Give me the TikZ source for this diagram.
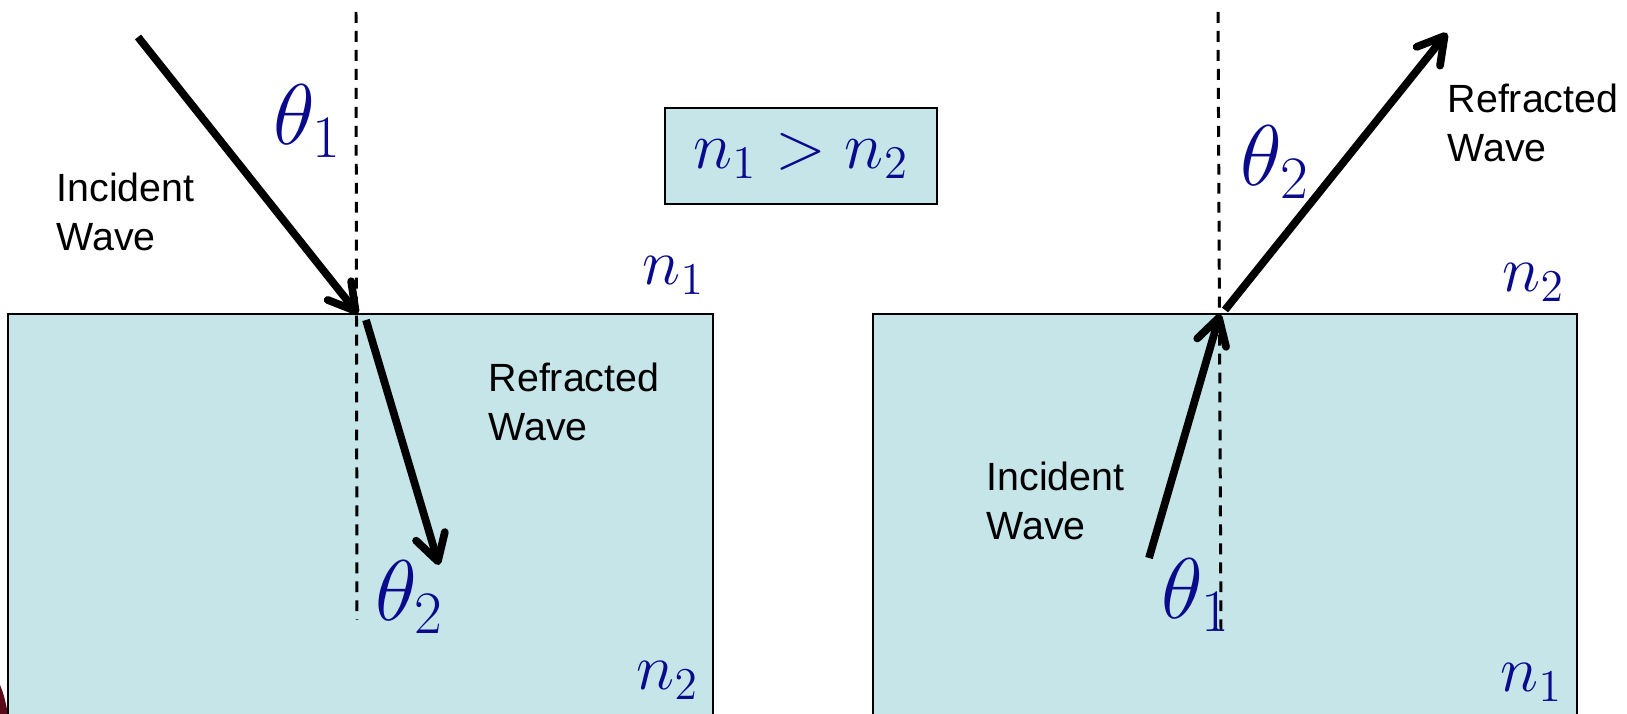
\documentclass[tikz,border=0pt]{standalone}
\usepackage{fix-cm}
\usepackage[no-math]{fontspec}
\newfontfamily\wavefont{Liberation Sans}
\usetikzlibrary{arrows.meta}
\definecolor{medium}{RGB}{197,229,232}
\definecolor{idxblue}{RGB}{10,10,140}
\definecolor{blob}{RGB}{90,10,25}

\begin{document}
\begin{tikzpicture}[
  med/.style={draw=black,line width=0.4pt,fill=medium},
  ray/.style={line width=2.2pt,-{Straight Barb[round,length=2.6mm,width=3mm]}},
  nl/.style={line width=0.85pt,dash pattern=on 3.1pt off 2.3pt},
  txt/.style={font=\wavefont\fontsize{11.2}{13.9}\selectfont,align=left,inner sep=0pt,anchor=north west},
  ang/.style={font=\fontsize{24.5}{29}\selectfont,text=idxblue,inner sep=0pt,anchor=base west},
  idx/.style={font=\fontsize{18.5}{22}\selectfont,text=idxblue,inner sep=0pt,anchor=base west}]
 \useasboundingbox (0,0) rectangle (16.27,-7.14);
 \clip (0,0) rectangle (16.27,-7.14);
 \fill[blob] (0,-6.85) .. controls (0.04,-6.95) .. (0.08,-7.14) -- (0,-7.14) -- cycle;
 \draw[med] (0.08,-3.14) rectangle (7.13,-7.3);
 \draw[med] (8.73,-3.14) rectangle (15.77,-7.3);
 \node[med,line width=0.5pt,minimum width=2.72cm,minimum height=0.96cm,inner sep=0pt,
       font=\fontsize{19}{23}\selectfont,text=idxblue] (cmp) at (8.01,-1.56) {$n_1>n_2$};
 % left: n1 above n2
 \coordinate (nlTop) at (3.56,-0.12);  \coordinate (nlBot) at (3.57,-6.20);
 \coordinate (inL) at (1.38,-0.37);    \coordinate (hitL) at (3.58,-3.14);
 \coordinate (outS) at (3.66,-3.20);   \coordinate (outL) at (4.39,-5.65);
 \draw[nl] (nlTop) -- (nlBot);
 \draw[ray] (inL) -- (hitL);
 \draw[ray] (outS) -- (outL);
 \node[txt] (incL) at (0.56,-1.72) {Incident\\Wave};
 \node[txt] (refL) at (4.88,-3.62) {Refracted\\Wave};
 \node[ang] (thOneL) at (2.73,-1.45) {$\theta_1$};
 \node[ang] (thTwoL) at (3.75,-6.21) {$\theta_2$};
 \node[idx] (nOneL) at (6.42,-2.85) {$n_1$};
 \node[idx] (nTwoL) at (6.36,-6.90) {$n_2$};
 % right: n1 below n2
 \coordinate (nrTop) at (12.18,-0.12); \coordinate (nrBot) at (12.21,-6.30);
 \coordinate (inR) at (11.49,-5.58);   \coordinate (hitR) at (12.20,-3.14);
 \coordinate (outSR) at (12.25,-3.10); \coordinate (outR) at (14.47,-0.33);
 \draw[nl] (nrTop) -- (nrBot);
 \draw[ray] (inR) -- (hitR);
 \draw[ray] (outSR) -- (outR);
 \node[txt] (incR) at (9.86,-4.61) {Incident\\Wave};
 \node[txt] (refR) at (14.47,-0.83) {Refracted\\Wave};
 \node[ang] (thOneR) at (11.61,-6.19) {$\theta_1$};
 \node[ang] (thTwoR) at (12.40,-1.86) {$\theta_2$};
 \node[idx] (nTwoR) at (15.02,-2.92) {$n_2$};
 \node[idx] (nOneR) at (15.00,-6.92) {$n_1$};
\end{tikzpicture}
\end{document}
